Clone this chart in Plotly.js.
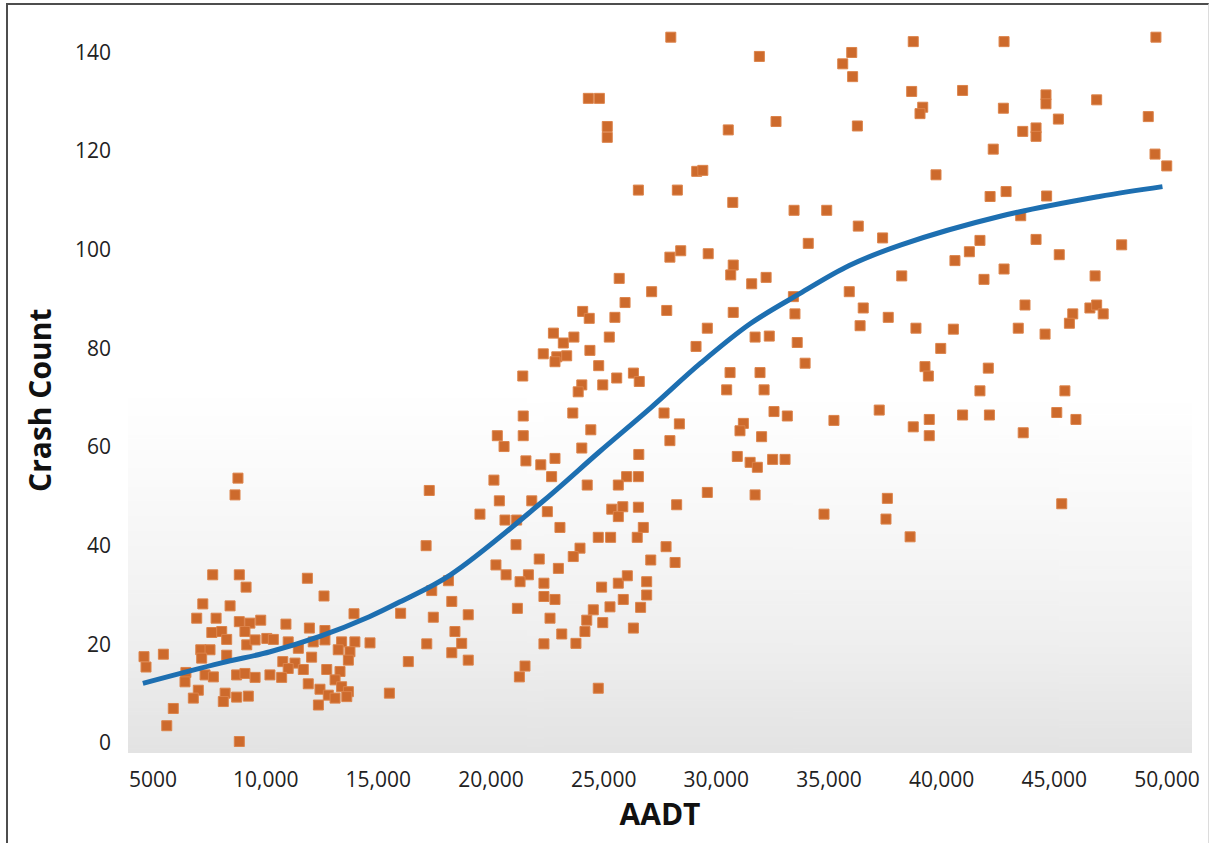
<!DOCTYPE html>
<html>
<head>
<meta charset="utf-8">
<script src="https://cdn.plot.ly/plotly-3.0.1.min.js"></script>
<style>
  html, body { margin: 0; padding: 0; background: #ffffff; }
  #wrap { position: relative; width: 1211px; height: 843px; overflow: hidden; }
  #chart { position: absolute; left: 0; top: 0; width: 1211px; height: 843px; }
  #frame { position: absolute; left: 6px; top: 3px; width: 1203px; height: 845px;
           border-left: 2px solid #4d4d4d; border-top: 2px solid #4d4d4d; border-right: 1px solid #dcdcdc;
           pointer-events: none; box-sizing: border-box; }
</style>
</head>
<body>
<div id="wrap">
  <div id="chart"></div>
  <div id="frame"></div>
</div>
<script>
// ---- Data ----
const aadt = [
  // 5,000 - 10,000 cluster
  7650, 8830, 9130, 7210, 8420, 6940, 7800, 8830, 9300, 9780,
  7610, 8050, 8270, 9080, 9160, 9530, 10050, 4600, 4690, 5460,
  7120, 7530, 7160, 8270, 6460, 6420, 7310, 7680, 8710, 9080,
  9530, 10190, 7010, 6790, 8200, 8120, 8710, 9230, 5900, 5610,
  8830, 8770, 8640,
  // 10,000 - 17,000
  11850, 12590, 13920, 15990, 10900, 11940, 12630, 10340, 11000, 11450,
  12110, 12630, 13370, 13960, 14630, 17150, 13220, 13740, 12040, 13670,
  16330, 10760, 11300, 11000, 11670, 12710, 13300, 10710, 11890, 13080,
  12410, 13370, 13670, 12780, 13080, 13600, 12340, 15490,
  // 17,000 - 29,000 (middle band)
  22770, 23680, 25250, 23210, 22320, 22920, 23360, 22840, 24390, 24780,
  29100, 21410, 24960, 25580, 26320, 26580, 24030, 23870, 21430, 23630,
  20280, 21430, 20580, 24430, 24030, 27680, 28360, 27940, 26560, 21550,
  22210, 22840, 22690, 20130, 17260, 24270, 26020, 26540, 25650, 20370,
  21810, 28240, 19510, 20620, 21140, 22500, 25360, 25850, 26540, 25650,
  23060, 26760, 26490, 24760, 25310, 17120, 21110, 23950, 23650, 22140,
  27770, 28170, 27090, 20220, 20670, 21660, 21290, 22350, 22990, 18110,
  17370, 24910, 25650, 26050, 26910, 26910, 22350, 22840, 25870, 25280,
  26640, 18260, 21170, 17440, 18990, 22620, 24540, 24250, 24960, 18400,
  26320, 23140, 24170, 18700, 18260, 18990, 22350, 23770, 21510, 21260,
  24760,
  // upper middle
  27980, 24320, 24810, 25160, 25160, 29130, 26540, 28270, 28420, 27940,
  25690, 27130, 25950, 27800, 24070, 24360, 25500,
  // upper right
  31910, 36010, 35610, 36050, 38740, 42770, 49510, 38670, 39160, 39040,
  40930, 42740, 44630, 44630, 45180, 46880, 49170, 43600, 44190, 44190,
  42290, 30530, 32650, 36260, 49470, 49990, 29400, 39750, 30730, 33450,
  34900, 42150, 42860, 44660, 43510, 36300, 37380, 34080, 29640, 30750,
  30640, 31570, 32210, 38230, 41700, 41230, 40590, 44190, 45220, 47990,
  42770, 41880, 46810, 35900, 33420,
  // lower right
  30750, 33490, 29600, 31720, 32350, 33590, 33940, 36520, 36380, 37630,
  38860, 40520, 39960, 43700, 43400, 44590, 45820, 45670, 46580, 46880,
  47170, 30610, 31940, 30460, 32120, 32560, 33150, 31200, 31050, 32010,
  30930, 31500, 31820, 32500, 33050, 29600, 31720, 35220, 37230, 38740,
  39450, 39450, 39260, 39410, 40930, 42120, 42070, 41700, 43620, 45470,
  45110, 45960, 34780, 37590, 37530, 38600, 45330
];
const crashCount = [
  34.1, 34.1, 31.6, 28.2, 27.8, 25.3, 25.3, 24.6, 24.3, 24.9,
  22.4, 22.6, 21.0, 22.6, 19.9, 20.9, 21.2, 17.5, 15.4, 18.0,
  18.9, 18.9, 17.2, 17.8, 14.3, 12.4, 13.8, 13.4, 13.8, 14.1,
  13.3, 13.8, 10.7, 9.1, 10.1, 8.4, 9.3, 9.5, 7.0, 3.5,
  0.3, 53.7, 50.3,
  33.4, 29.8, 26.2, 26.3, 24.1, 23.3, 22.8, 21.0, 20.5, 19.2,
  20.5, 20.9, 20.5, 20.5, 20.3, 20.1, 18.9, 18.5, 17.4, 16.8,
  16.5, 16.5, 16.2, 15.1, 14.9, 14.9, 14.5, 13.3, 12.0, 12.8,
  10.9, 11.4, 10.4, 9.7, 9.1, 9.4, 7.7, 10.1,
  83.1, 82.3, 82.3, 81.1, 78.9, 78.3, 78.5, 77.3, 79.6, 76.5,
  80.4, 74.4, 72.6, 74.0, 75.0, 73.3, 72.6, 71.2, 66.3, 66.9,
  62.3, 62.3, 60.1, 63.5, 59.8, 66.9, 64.7, 61.3, 58.5, 57.2,
  56.4, 57.7, 54.0, 53.3, 51.2, 52.3, 54.0, 54.0, 52.3, 49.1,
  49.1, 48.3, 46.4, 45.2, 45.2, 46.9, 47.4, 47.9, 47.8, 45.9,
  43.7, 43.7, 41.7, 41.7, 41.7, 40.0, 40.2, 39.5, 37.8, 37.3,
  39.8, 36.6, 37.1, 36.1, 34.1, 34.1, 32.7, 32.4, 35.4, 32.9,
  30.9, 31.6, 32.4, 33.9, 32.7, 30.0, 29.7, 29.1, 29.1, 27.6,
  27.5, 28.7, 27.3, 25.5, 26.0, 25.3, 27.0, 24.9, 24.4, 22.6,
  23.3, 22.1, 22.6, 20.2, 18.3, 16.8, 20.1, 20.2, 15.6, 13.4,
  11.1,
  143.1, 130.7, 130.7, 125.0, 122.8, 115.9, 112.1, 112.1, 99.8, 98.5,
  94.2, 91.5, 89.3, 87.7, 87.5, 86.1, 86.3,
  139.2, 140.0, 137.7, 135.1, 142.2, 142.2, 143.1, 132.1, 128.9, 127.6,
  132.3, 128.7, 131.4, 129.6, 126.5, 130.4, 127.0, 124.0, 124.7, 123.0,
  120.4, 124.3, 126.0, 125.1, 119.4, 117.0, 116.1, 115.2, 109.6, 108.0,
  108.0, 110.8, 111.8, 110.9, 106.9, 104.8, 102.4, 101.3, 99.2, 96.9,
  94.9, 93.1, 94.4, 94.7, 101.9, 99.6, 97.8, 102.1, 99.0, 101.0,
  96.1, 94.0, 94.7, 91.5, 90.5,
  87.3, 87.0, 84.1, 82.3, 82.5, 81.2, 77.0, 88.2, 84.6, 86.3,
  84.1, 83.9, 80.0, 88.8, 84.1, 82.9, 87.0, 85.1, 88.2, 88.8,
  87.0, 75.1, 75.1, 71.6, 71.6, 67.2, 66.3, 64.8, 63.3, 62.1,
  58.1, 56.9, 55.9, 57.5, 57.5, 50.8, 50.3, 65.4, 67.5, 64.1,
  65.6, 62.3, 76.3, 74.4, 66.5, 66.5, 76.0, 71.4, 62.9, 71.4,
  67.0, 65.6, 46.4, 49.6, 45.4, 41.8, 48.5
];
const fitAadt  = [4550, 8000, 10200, 12400, 14600, 16000, 18200, 22200, 24800, 27100, 29300, 31500, 33700, 35900, 38200, 42600, 47000, 49800];
const fitCrash = [12.1, 16.2, 18.5, 21.6, 25.6, 28.7, 34.1, 48.6, 59.0, 68.0, 77.0, 85.0, 91.1, 96.8, 101.0, 106.8, 110.8, 112.8];
const xTickVals = [5000, 10000, 15000, 20000, 25000, 30000, 35000, 40000, 45000, 50000];
const xTickText = ['5000', '10,000', '15,000', '20,000', '25,000', '30,000', '35,000', '40,000', '45,000', '50,000'];
const yTickVals = [0, 20, 40, 60, 80, 100, 120, 140];

// ---- Plot-area gradient (white at top, light grey at bottom) ----
const cv = document.createElement('canvas');
cv.width = 4; cv.height = 400;
const cx = cv.getContext('2d');
const g = cx.createLinearGradient(0, 0, 0, 400);
g.addColorStop(0.0, '#ffffff');
g.addColorStop(0.52, '#ffffff');
g.addColorStop(0.68, '#f8f8f8');
g.addColorStop(0.85, '#efefef');
g.addColorStop(1.0, '#e3e3e3');
cx.fillStyle = g;
cx.fillRect(0, 0, 4, 400);
const bgSrc = cv.toDataURL('image/png');

const tickFont = { family: 'Open Sans, sans-serif', size: 21, color: '#222222' };
const titleFont = { family: 'Open Sans, sans-serif', size: 30, color: '#111111', weight: 'bold' };

const traces = [
  {
    type: 'scatter', mode: 'markers', name: 'Crashes',
    x: aadt, y: crashCount,
    marker: { symbol: 'square', size: 10, color: '#cd6a2c', line: { color: '#dc834a', width: 1 } },
    hoverinfo: 'x+y', showlegend: false
  },
  {
    type: 'scatter', mode: 'lines', name: 'Fit',
    x: fitAadt, y: fitCrash,
    line: { color: '#1d6fb1', width: 5, shape: 'spline', smoothing: 1 },
    hoverinfo: 'skip', showlegend: false
  }
];

const layout = {
  width: 1211, height: 843,
  margin: { l: 128, r: 19, t: 15, b: 90, pad: 0 },
  paper_bgcolor: '#ffffff',
  plot_bgcolor: 'rgba(0,0,0,0)',
  showlegend: false,
  images: [{
    source: bgSrc, xref: 'paper', yref: 'paper', x: 0, y: 1, sizex: 1, sizey: 1,
    xanchor: 'left', yanchor: 'top', sizing: 'stretch', layer: 'below'
  }],
  xaxis: {
    range: [3890, 51111], tickvals: xTickVals, ticktext: xTickText,
    showgrid: false, zeroline: false, showline: false, ticks: '',
    tickfont: tickFont, ticklabelstandoff: 12, automargin: false,
    title: { text: 'AADT', font: titleFont, standoff: 8 }
  },
  yaxis: {
    range: [-2.03, 147.6], tickvals: yTickVals,
    showgrid: false, zeroline: false, showline: false, ticks: '',
    tickfont: tickFont, ticklabelstandoff: 16, automargin: false
  },
  annotations: [{
    text: 'Crash Count', textangle: -90, showarrow: false,
    xref: 'paper', yref: 'paper', x: -0.083, y: 0.478,
    xanchor: 'center', yanchor: 'middle', font: titleFont
  }]
};

Plotly.newPlot('chart', traces, layout, { displayModeBar: false, responsive: false });
</script>
</body>
</html>
